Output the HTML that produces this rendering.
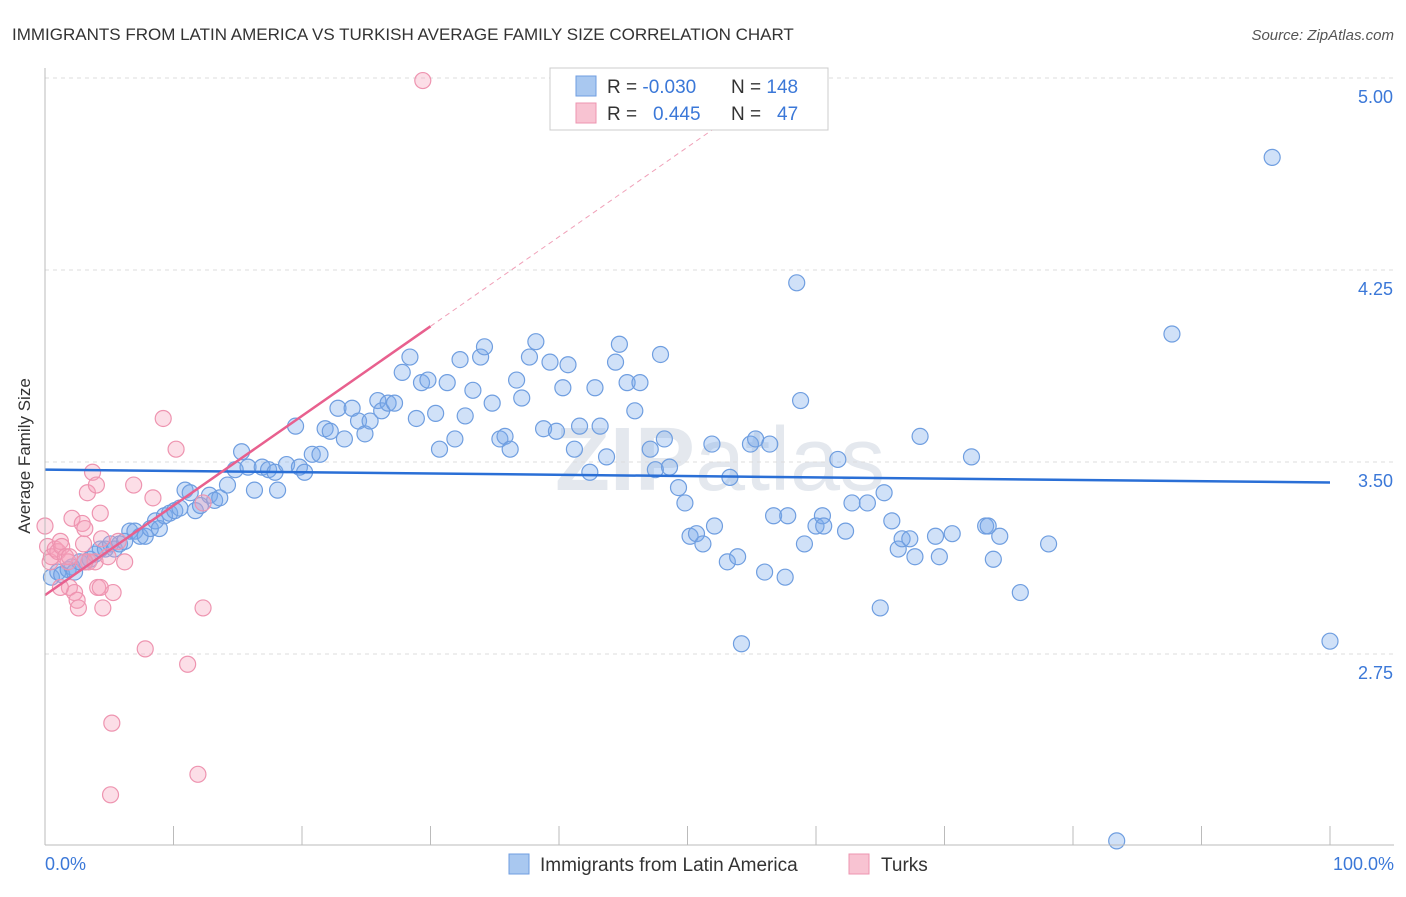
<!DOCTYPE html>
<html><head><meta charset="utf-8"><style>
body{margin:0;background:#fff;font-family:"Liberation Sans",sans-serif}
</style></head><body>
<svg id="c" width="1406" height="892" xmlns="http://www.w3.org/2000/svg" style="font-family:'Liberation Sans',sans-serif">
<text x="12" y="40" font-size="17" fill="#333">IMMIGRANTS FROM LATIN AMERICA VS TURKISH AVERAGE FAMILY SIZE CORRELATION CHART</text>
<text x="1394" y="40" font-size="15" fill="#555" font-style="italic" text-anchor="end">Source: ZipAtlas.com</text>
<text x="720" y="490" font-size="90" fill="#e4e8ee" text-anchor="middle" font-weight="bold">ZIP<tspan font-weight="normal">atlas</tspan></text>
<g id="grid"></g><g id="pts"></g><g id="lines"></g>
<line x1="45" y1="68" x2="45" y2="845" stroke="#bbb"/>
<line x1="45" y1="845" x2="1394" y2="845" stroke="#bbb"/>
<text x="30" y="456" font-size="17" fill="#333" text-anchor="middle" transform="rotate(-90 30 456)">Average Family Size</text>
<text x="45" y="870" font-size="18" fill="#3b78d8">0.0%</text>
<text x="1394" y="870" font-size="18" fill="#3b78d8" text-anchor="end">100.0%</text>
<g>
<rect x="550" y="68" width="278" height="62" fill="#fff" stroke="#ccc"/>
<rect x="576" y="76" width="20" height="20" fill="#a9c8f0" stroke="#6f9ee0"/>
<rect x="576" y="103" width="20" height="20" fill="#f8c3d2" stroke="#ee94b0"/>
<text x="607" y="93" font-size="19" fill="#333">R = <tspan fill="#3b78d8">-0.030</tspan><tspan x="731">N = </tspan><tspan fill="#3b78d8">148</tspan></text>
<text x="607" y="120" font-size="19" fill="#333">R = <tspan fill="#3b78d8" x="653">0.445</tspan><tspan x="731">N = </tspan><tspan fill="#3b78d8" x="777">47</tspan></text>
</g>
<g>
<rect x="509" y="854" width="20" height="20" fill="#a9c8f0" stroke="#6f9ee0"/>
<text x="540" y="871" font-size="19" fill="#333">Immigrants from Latin America</text>
<rect x="849" y="854" width="20" height="20" fill="#f8c3d2" stroke="#ee94b0"/>
<text x="881" y="871" font-size="19" fill="#333">Turks</text>
</g>
</svg>
<script>
const yTicks=[5.00,4.25,3.50,2.75];
const xTicks=[0,10,20,30,40,50,60,70,80,90,100];
const blueX=[0.5,1.0,1.3,1.8,2.1,2.3,2.7,3.1,3.5,3.9,4.3,4.7,5.1,5.4,5.8,6.2,6.6,7.0,7.4,7.8,8.2,8.6,8.9,9.3,9.7,10.1,10.5,10.9,11.3,11.7,12.1,12.8,13.2,13.6,14.2,14.8,15.3,15.8,16.3,16.9,17.4,17.9,18.1,18.8,19.5,19.8,20.2,20.8,21.4,21.8,22.2,22.8,23.3,23.9,24.4,24.9,25.3,25.9,26.2,26.7,27.2,27.8,28.4,28.9,29.3,29.8,30.4,30.7,31.3,31.9,32.3,32.7,33.3,33.9,34.2,34.8,35.4,35.8,36.2,36.7,37.1,37.7,38.2,38.8,39.3,39.8,40.3,40.7,41.2,41.6,42.4,42.8,43.2,43.7,44.4,44.7,45.3,45.9,46.3,47.1,47.5,47.9,48.2,48.6,49.3,49.8,50.2,50.7,51.2,51.9,52.1,53.1,53.3,53.9,54.2,54.9,55.3,56.0,56.4,56.7,57.6,57.8,58.5,58.8,59.1,60.0,60.5,60.6,61.7,62.3,62.8,64.0,65.0,65.3,65.9,66.4,66.7,67.3,67.7,68.1,69.3,69.6,70.6,72.1,73.2,73.4,73.8,74.3,75.9,78.1,83.4,87.7,95.5,100];
const blueY=[3.05,3.07,3.06,3.08,3.09,3.07,3.11,3.11,3.12,3.14,3.16,3.16,3.18,3.16,3.18,3.19,3.23,3.23,3.21,3.21,3.24,3.27,3.24,3.29,3.30,3.31,3.32,3.39,3.38,3.31,3.33,3.37,3.35,3.36,3.41,3.47,3.54,3.48,3.39,3.48,3.47,3.46,3.39,3.49,3.64,3.48,3.46,3.53,3.53,3.63,3.62,3.71,3.59,3.71,3.66,3.61,3.66,3.74,3.70,3.73,3.73,3.85,3.91,3.67,3.81,3.82,3.69,3.55,3.81,3.59,3.90,3.68,3.78,3.91,3.95,3.73,3.59,3.60,3.55,3.82,3.75,3.91,3.97,3.63,3.89,3.62,3.79,3.88,3.55,3.64,3.46,3.79,3.64,3.52,3.89,3.96,3.81,3.70,3.81,3.55,3.47,3.92,3.59,3.48,3.40,3.34,3.21,3.22,3.18,3.57,3.25,3.11,3.44,3.13,2.79,3.57,3.59,3.07,3.57,3.29,3.05,3.29,4.20,3.74,3.18,3.25,3.29,3.25,3.51,3.23,3.34,3.34,2.93,3.38,3.27,3.16,3.20,3.20,3.13,3.60,3.21,3.13,3.22,3.52,3.25,3.25,3.12,3.21,2.99,3.18,2.02,4.00,4.69,2.80];
const pinkX=[29.4,0,0.2,0.4,0.5,0.8,1,1.2,1.3,1.6,1.8,1.9,2.1,2.3,2.5,2.6,2.9,3,3.1,3.3,3.4,3.7,3.9,4,4.1,4.3,4.4,4.5,4.9,5.3,5.7,6.2,6.9,7.8,8.4,9.2,10.2,11.1,11.9,12.3,12.3,5.2,5.1,1.2,1.9,3.1,4.3];
const pinkY=[4.99,3.25,3.17,3.11,3.13,3.16,3.15,3.19,3.17,3.13,3.11,3.01,3.28,2.99,2.96,2.93,3.26,3.18,3.24,3.38,3.11,3.46,3.11,3.41,3.01,3.30,3.20,2.93,3.13,2.99,3.19,3.11,3.41,2.77,3.36,3.67,3.55,2.71,2.28,2.93,3.34,2.48,2.20,3.01,3.13,3.11,3.01];
const blueLine=[3.47,3.42], pinkLine=[2.98,4.03];
const NS='http://www.w3.org/2000/svg';
const X=v=>45+v/100*1285, Y=v=>78+(5-v)*256;
function mk(t,a,p){const e=document.createElementNS(NS,t);for(const k in a)e.setAttribute(k,a[k]);p.appendChild(e);return e;}
const g=document.getElementById('grid');
yTicks.forEach(t=>{
 const l=mk('line',{x1:45,x2:1394,y1:Y(t),y2:Y(t),stroke:'#ddd','stroke-dasharray':'4,4'},g);
 
 
 const tx=mk('text',{x:1393,y:Y(t)+25,'font-size':18,fill:'#3b78d8','text-anchor':'end'},g);
 tx.textContent=t.toFixed(2);
 
 
});
xTicks.forEach(t=>{
 const l=mk('line',{x1:X(t),x2:X(t),y1:826,y2:845,stroke:'#bbb'},g);
 
 
});
const p=document.getElementById('pts');
const nb=Math.min(blueX.length,blueY.length);
for(let i=0;i<nb;i++){
 const c=mk('circle',{cx:X(blueX[i]),cy:Y(blueY[i]),r:8,fill:'rgba(120,170,235,0.35)',stroke:'#6f9ee0','stroke-width':1.2},p);
 
 
}
const np=Math.min(pinkX.length,pinkY.length);
for(let i=0;i<np;i++){
 const c=mk('circle',{cx:X(pinkX[i]),cy:Y(pinkY[i]),r:8,fill:'rgba(245,160,185,0.35)',stroke:'#ee94b0','stroke-width':1.2},p);
 
 
}
const L=document.getElementById('lines');
const bl=mk('line',{x1:X(0),y1:Y(blueLine[0]),x2:X(100),y2:Y(blueLine[1]),stroke:'#2a6fd6','stroke-width':2.5},L);


const slope=(pinkLine[1]-pinkLine[0])/30;
const pl=mk('line',{x1:X(0),y1:Y(pinkLine[0]),x2:X(30),y2:Y(pinkLine[1]),stroke:'#e8608e','stroke-width':2.5},L);


const pd=mk('line',{x1:X(30),y1:Y(pinkLine[1]),x2:X(52),y2:Y(pinkLine[1]+slope*22),stroke:'#f0a0b8','stroke-width':1,'stroke-dasharray':'5,4'},L);


</script>
</body></html>
